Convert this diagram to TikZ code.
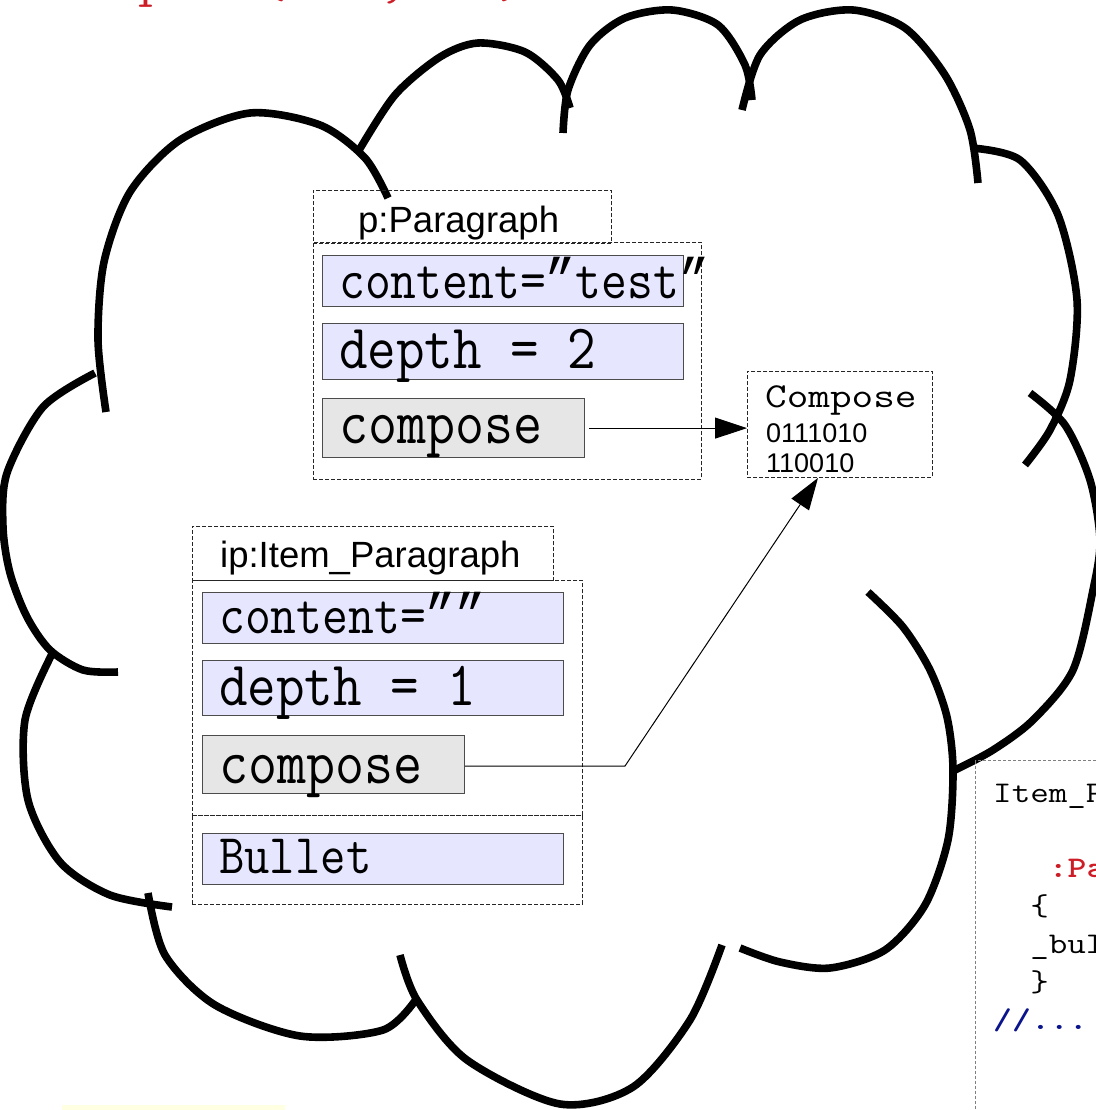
\documentclass[tikz,border=0pt]{standalone}
\usepackage{fontspec}
\usepackage{graphicx}
\setmainfont{Liberation Sans}
\newfontfamily\qfont{Liberation Mono}
\usetikzlibrary{arrows.meta,calc}
\definecolor{attrfill}{RGB}{230,230,255}
\definecolor{methfill}{RGB}{230,230,230}
\definecolor{codered}{RGB}{205,30,40}
\definecolor{codeblue}{RGB}{10,20,140}
\definecolor{yelfill}{RGB}{255,255,225}
\newcommand\mono[3]{{\ttfamily\fontsize{#1}{#1}\selectfont\scalebox{#2}[1]{#3}}}
\newcommand\sans[2]{{\fontsize{#1}{#1}\selectfont #2}}
\newcommand\cq{{\qfont ”}}
\tikzset{
  cloudline/.style={line width=7.6pt, black},
  dbox/.style={draw=black!85, dash pattern=on 4pt off 2pt, line width=0.9pt, inner sep=0pt, anchor=north west},
  attr/.style={draw=black!70, fill=attrfill, line width=1.2pt, inner sep=0pt, anchor=north west},
  meth/.style={draw=black!70, fill=methfill, line width=1.2pt, inner sep=0pt, anchor=north west},
  lbl/.style={inner sep=0pt, anchor=base west},
  conn/.style={line width=1pt, -{Triangle[length=32pt,width=21pt]}},
  codebox/.style={draw=black!50, dash pattern=on 3pt off 2pt, line width=1pt, inner sep=0pt, anchor=north west},
}
\begin{document}
\begin{tikzpicture}[x=1pt,y=-1pt]
\useasboundingbox (0,0) rectangle (1095,1110);
\fill[white] (0,0) rectangle (1095,1110);

% clipped red heading
\node[lbl, text=codered] (heading) at (49,-1) {\mono{40pt}{1.45}{compose(int,int) is redefined in Item\_Paragraph}};

% faint yellow shape at the bottom
\fill[yelfill] (62,1105) rectangle (285,1120);

% cloud
\draw[cloudline] plot[smooth] coordinates {(106,412) (98,340) (104,262) (130,192) (180,140) (250,113) (320,125) (365,158) (388,198)};
\draw[cloudline] plot[smooth] coordinates {(358,152) (395,95) (440,57) (478,43) (525,52) (558,80) (570,108)};
\draw[cloudline] plot[smooth] coordinates {(563,133) (568,90) (590,45) (625,18) (672,10) (718,25) (745,65) (752,100)};
\draw[cloudline] plot[smooth] coordinates {(742,110) (760,55) (800,20) (853,10) (905,28) (945,75) (970,130) (978,183)};
\draw[cloudline] plot[smooth] coordinates {(972,148) (1020,160) (1058,215) (1077,300) (1070,380) (1050,430) (1025,465)};
\draw[cloudline] plot[smooth] coordinates {(1030,393) (1065,425) (1090,480) (1100,540) (1093,590) (1073,670) (1033,720) (993,750) (955,770)};
\draw[cloudline] plot[smooth] coordinates {(868,592) (903,627) (930,670) (947,717) (953,770) (948,840) (925,905) (885,950) (830,968) (780,962) (740,948)};
\draw[cloudline] plot[smooth] coordinates {(400,955) (417,1000) (467,1060) (560,1104) (633,1087) (690,1020) (722,945)};
\draw[cloudline] plot[smooth] coordinates {(148,893) (165,955) (215,1005) (300,1036) (383,1030) (417,998)};
\draw[cloudline] plot[smooth] coordinates {(53,652) (25,720) (28,800) (60,862) (110,895) (172,907)};
\draw[cloudline] plot[smooth] coordinates {(95,373) (43,407) (7,473) (3,527) (10,573) (27,617) (50,650) (83,670) (118,672)};

% p:Paragraph
\node[dbox, minimum width=298pt, minimum height=53pt] (phead) at (313,190) {};
\node[lbl] (pheadt) at (358,232) {\sans{36.5pt}{p:Paragraph}};
\node[dbox, minimum width=388pt, minimum height=237pt] (pbody) at (313,242) {};
\node[attr, minimum width=361pt, minimum height=51pt] (pc) at (322,255) {};
\node[lbl] (pct) at (339,298) {\mono{57pt}{0.88}{content=\cq test\cq}};
\node[attr, minimum width=361pt, minimum height=56pt] (pd) at (322,323) {};
\node[lbl] (pdt) at (339,368) {\mono{63pt}{0.88}{depth = 2}};
\node[meth, minimum width=262pt, minimum height=59pt] (pm) at (322,398) {};
\node[lbl] (pmt) at (339,443) {\mono{64pt}{0.88}{compose}};

% Compose result
\node[dbox, minimum width=185pt, minimum height=106pt] (cbox) at (747,371) {};
\node[lbl] (cboxt) at (765,407) {\mono{35pt}{1.2}{Compose}};
\node[lbl] (cboxa) at (766,442) {\sans{27pt}{0111010}};
\node[lbl] (cboxb) at (766,472) {\sans{27pt}{110010}};

% ip:Item_Paragraph
\node[dbox, minimum width=361pt, minimum height=54pt] (iphead) at (192,526) {};
\node[lbl] (ipheadt) at (220,567) {\sans{36.5pt}{ip:Item\_Paragraph}};
\node[dbox, minimum width=390pt, minimum height=235pt] (ipbody) at (192,580) {};
\node[dbox, minimum width=390pt, minimum height=89pt] (ipbul) at (192,815) {};
\node[attr, minimum width=361pt, minimum height=51pt] (ic) at (202,592) {};
\node[lbl] (ict) at (219,633) {\mono{57pt}{0.88}{content=\cq\cq}};
\node[attr, minimum width=361pt, minimum height=55pt] (id) at (202,660) {};
\node[lbl] (idt) at (219,705) {\mono{63pt}{0.88}{depth = 1}};
\node[meth, minimum width=262pt, minimum height=58pt] (im) at (202,735) {};
\node[lbl] (imt) at (219,783) {\mono{64pt}{0.88}{compose}};
\node[attr, minimum width=361pt, minimum height=51pt] (ib) at (202,833) {};
\node[lbl] (ibt) at (219,873) {\mono{56pt}{0.88}{Bullet}};

% connectors
\draw[conn] ([xshift=4pt]pm.east) -- (cbox.west |- pm.east);
\coordinate (bend) at (625,766);
\coordinate (ctip) at ($(cbox.south west)+(71,0)$);
\draw[conn] (im.east |- bend) -- (bend) -- (ctip);

% code box
\node[codebox, minimum width=200pt, minimum height=400pt] (code) at (975,760) {};
\node[lbl] (c1) at (993,802) {\mono{30pt}{1.2}{Item\_Paragraph::Item\_Paragraph()}};
\node[lbl] (c2) at (993,877) {\mono{30pt}{1.2}{\ \ \ \textcolor{codered}{\bfseries :Paragraph()}}};
\node[lbl] (c3) at (993,915) {\mono{30pt}{1.2}{\ \ \{}};
\node[lbl] (c4) at (993,953) {\mono{30pt}{1.2}{\ \ \_bullet = true;}};
\node[lbl] (c5) at (993,991) {\mono{30pt}{1.2}{\ \ \}}};
\node[lbl] (c6) at (993,1029) {\mono{30pt}{1.2}{\textcolor{codeblue}{\bfseries //...}}};
\end{tikzpicture}
\end{document}
